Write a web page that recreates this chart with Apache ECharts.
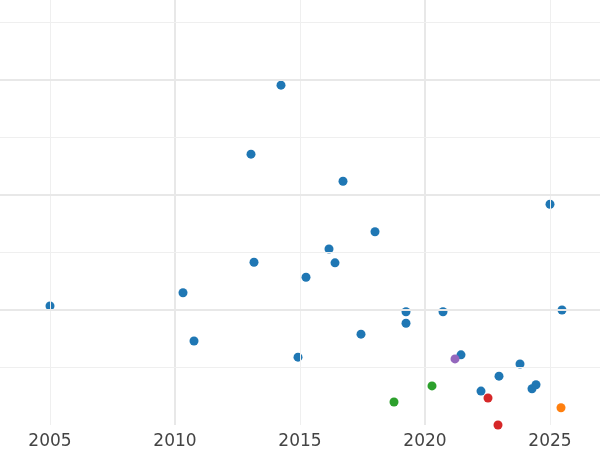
<!DOCTYPE html>
<html>
<head>
<meta charset="utf-8">
<script src="https://cdn.jsdelivr.net/npm/echarts@6/dist/echarts.min.js"></script>
<style>html,body{margin:0;padding:0;background:#fff}#chart{width:600px;height:450px}</style>
</head>
<body>
<div id="chart"></div>
<script>
var yearTicks = [2005, 2010, 2015, 2020, 2025];
var majorX = [2010, 2020], minorX = [2005, 2015, 2025];
var majorY = [2, 4, 6], minorY = [1, 3, 5, 7];

var blueX = [2014.24, 2013.04, 2016.72, 2025.0, 2018.0, 2016.16, 2013.16, 2016.4, 2015.24, 2005.0, 2010.32, 2019.24, 2020.72, 2025.48, 2019.24, 2010.76, 2017.44, 2014.92, 2021.44, 2023.8, 2022.96, 2022.24, 2024.28, 2024.44];
var blueY = [5.91, 4.71, 4.24, 3.84, 3.36, 3.06, 2.83, 2.82, 2.57, 2.07, 2.30, 1.97, 1.97, 2.0, 1.77, 1.46, 1.58, 1.18, 1.22, 1.06, 0.85, 0.59, 0.63, 0.70];
var purpleX = [2021.2], purpleY = [1.15];
var greenX = [2018.76, 2020.28], greenY = [0.40, 0.68];
var redX = [2022.52, 2022.92], redY = [0.47, 0.0];
var orangeX = [2025.44], orangeY = [0.30];

function pts(xs, ys) { return xs.map(function (x, i) { return [x, ys[i]]; }); }
function lines(vals, key, color, w) {
  return vals.map(function (v) { var o = {}; o[key] = v; o.lineStyle = {color: color, width: w, type: 'solid'}; return o; });
}

var myChart = echarts.init(document.getElementById('chart'));
var groups = [
  [blueX, blueY, '#1f77b4'], [purpleX, purpleY, '#9467bd'], [greenX, greenY, '#2ca02c'],
  [redX, redY, '#d62728'], [orangeX, orangeY, '#ff7f0e']
];
var series = groups.map(function (g) {
  return {type: 'scatter', symbolSize: 9, clip: true, data: pts(g[0], g[1]), itemStyle: {color: g[2], opacity: 1}, z: 3};
});
series.push({
  type: 'scatter', data: [], z: 1,
  markLine: {
    silent: true, symbol: 'none', label: {show: false}, animation: false,
    data: lines(minorX, 'xAxis', '#efefef', 1).concat(lines(majorX, 'xAxis', '#e8e8e8', 2))
      .concat(lines(minorY, 'yAxis', '#efefef', 1)).concat(lines(majorY, 'yAxis', '#e8e8e8', 2))
  }
});
myChart.setOption({
  animation: false,
  grid: {left: 0, right: 0, top: 0, bottom: 25},
  xAxis: {
    type: 'value', min: 2003, max: 2027,
    splitLine: {show: false}, axisLine: {show: false}, axisTick: {show: false},
    axisLabel: {customValues: yearTicks, formatter: function (v) { return String(v); },
      color: '#444', fontSize: 17, margin: 8, fontFamily: 'DejaVu Sans'}
  },
  yAxis: {
    type: 'value', min: 0, max: 425 / 57.5,
    splitLine: {show: false}, axisLine: {show: false}, axisTick: {show: false}, axisLabel: {show: false}
  },
  series: series
});
</script>
</body>
</html>
